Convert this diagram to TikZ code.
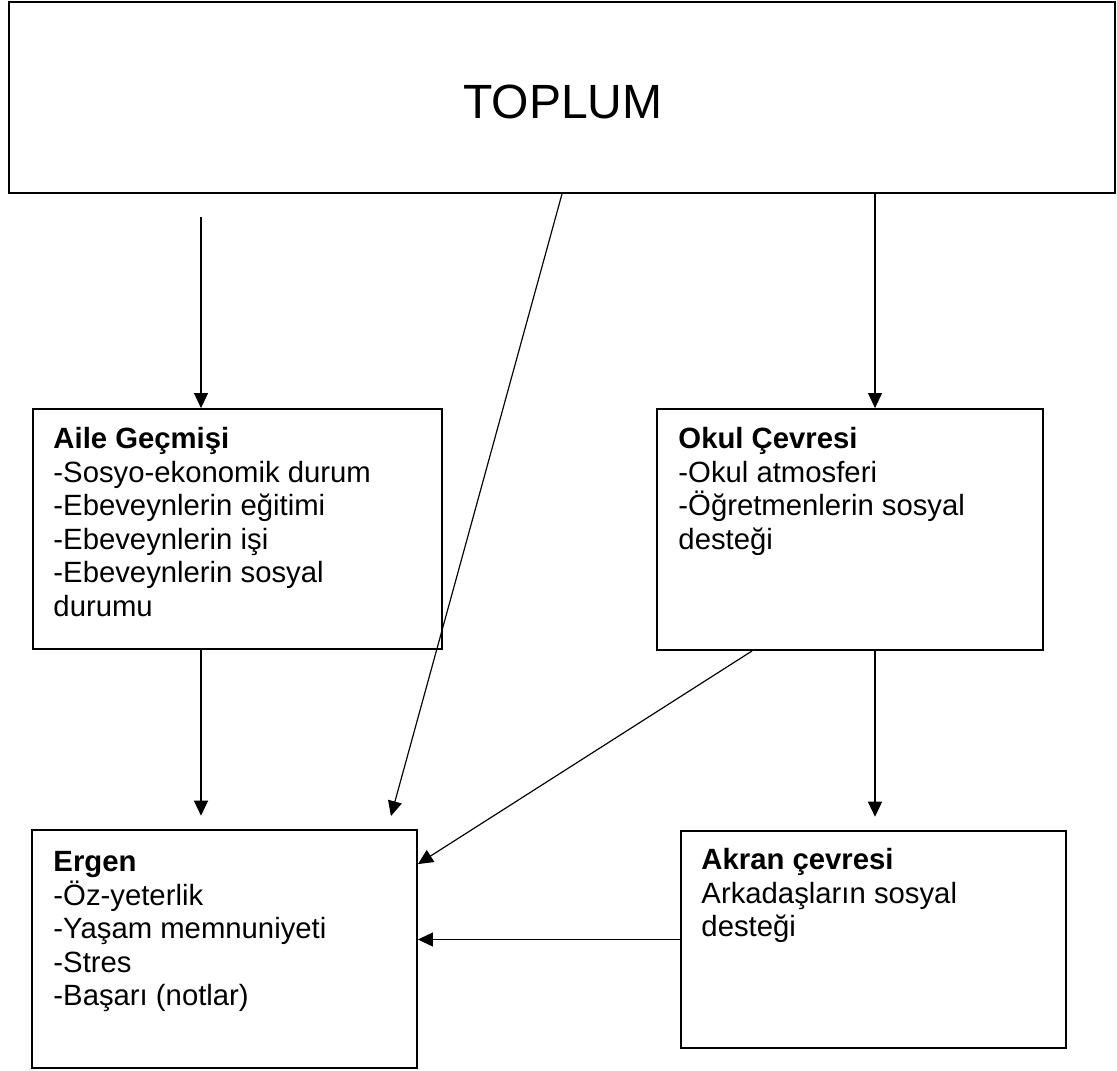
\documentclass[tikz,border=0pt]{standalone}
\usepackage{fontspec}
\setmainfont{Liberation Sans}
\usetikzlibrary{arrows.meta,fit}

\tikzset{
    box/.style={draw, line width=0.8pt, inner sep=0pt},
    boxtext/.style={anchor=north west, inner sep=0pt, align=left, font=\fontsize{12.5}{14.3}\selectfont},
    arr/.style={line width=0.5pt, -{Triangle[length=0.225cm,width=0.21cm]}},
}

\begin{document}
\begin{tikzpicture}[x=0.015cm, y=-0.015cm]
            \useasboundingbox (0,0) rectangle (1117,1070);

            \node[box, fit={(9,2) (1115,193)}] (toplum) {};
            \node[inner sep=0pt, font=\fontsize{20.5}{24}\selectfont] (toplumtxt) at (563,102) {TOPLUM};

            \node[box, fit={(33,409) (442,649)}] (aile) {};
            \node[boxtext] (ailetxt) at (53,427) {\textbf{Aile Geçmişi}\\-Sosyo-ekonomik durum\\-Ebeveynlerin eğitimi\\-Ebeveynlerin işi\\-Ebeveynlerin sosyal\\durumu};

            \node[box, fit={(657,409) (1043,650)}] (okul) {};
            \node[boxtext] (okultxt) at (678,427) {\textbf{Okul Çevresi}\\-Okul atmosferi\\-Öğretmenlerin sosyal\\desteği};

            \node[box, fit={(32,830) (417,1068)}] (ergen) {};
            \node[boxtext] (ergentxt) at (53,851) {\textbf{Ergen}\\-Öz-yeterlik\\-Yaşam memnuniyeti\\-Stres\\-Başarı (notlar)};

            \node[box, fit={(681,831) (1066,1048)}] (akran) {};
            \node[boxtext] (akrantxt) at (701,848) {\textbf{Akran çevresi}\\Arkadaşların sosyal\\desteği};

            \coordinate (lcol) at (201,217);
            \coordinate (rcol) at (875,193);

            \draw[arr] (lcol) -- (lcol |- aile.north);
            \draw[arr] (rcol |- toplum.south) -- (rcol |- okul.north);
            \draw[arr] (toplum.south) -- ([shift={(-27,-13)}]ergen.north east);

            \draw[arr, shorten >=0.2cm] (lcol |- aile.south) -- (lcol |- ergen.north);
            \draw[arr, shorten >=0.2cm] (rcol |- okul.south) -- (rcol |- akran.north);
            \draw[arr] ([shift={(96,0)}]okul.south west) -- ([shift={(0,35)}]ergen.north east);
            \draw[arr] (akran.west) -- (akran.west -| ergen.east);
        \end{tikzpicture}
\end{document}
